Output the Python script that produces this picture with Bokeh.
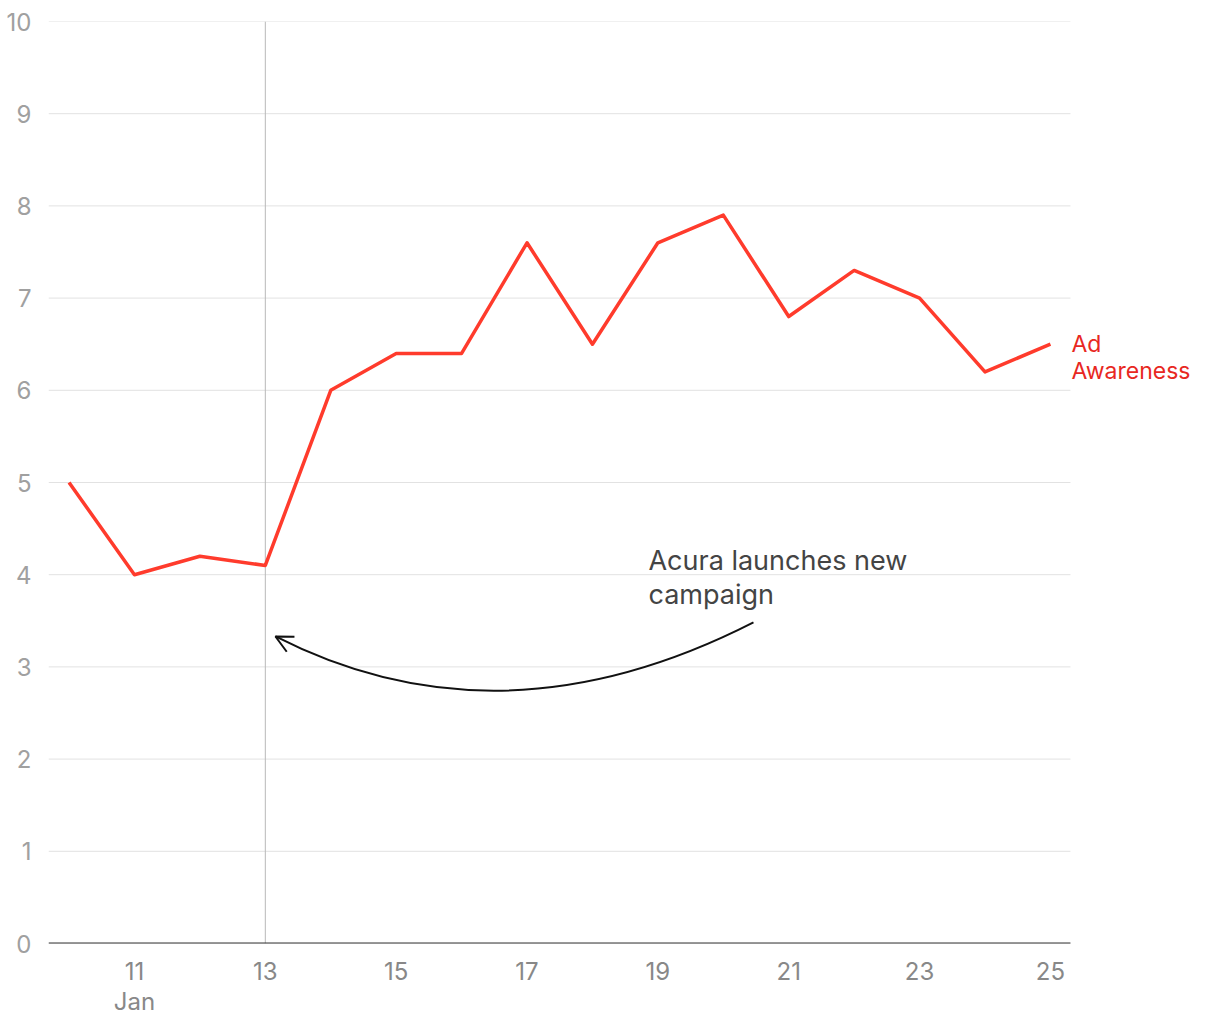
from bokeh.plotting import figure
from bokeh.models import FixedTicker, Label, Range1d, Arrow, OpenHead
from bokeh.embed import file_html
from bokeh.resources import INLINE

days = [10, 11, 12, 13, 14, 15, 16, 17, 18, 19, 20, 21, 22, 23, 24, 25]
ad_awareness = [5.0, 4.0, 4.2, 4.1, 6.0, 6.4, 6.4, 7.6, 6.5, 7.6, 7.9, 6.8, 7.3, 7.0, 6.2, 6.5]
x_ticks = [11, 13, 15, 17, 19, 21, 23, 25]
y_ticks = [0, 1, 2, 3, 4, 5, 6, 7, 8, 9, 10]
event_day = 13
series_name = ["Ad", "Awareness"]
note_lines = ["Acura launches new", "campaign"]

FONT = "Inter"
RED = "#ff3b2c"

X_LEFT = 9.686
GRID_RIGHT = 25.306
X_RIGHT = 27.37

p = figure(frame_width=1157, frame_height=922, output_backend="svg", toolbar_location=None,
           x_range=Range1d(X_LEFT, X_RIGHT), y_range=Range1d(0, 10),
           min_border_left=48, min_border_right=4, min_border_top=21, min_border_bottom=10)
p.outline_line_color = None
p.background_fill_color = "white"
p.border_fill_color = "white"

p.xgrid.grid_line_color = None
p.ygrid.grid_line_color = None

# horizontal gridlines limited to the plotting area (label space on the right)
p.segment(x0=[X_LEFT] * len(y_ticks), y0=y_ticks, x1=[GRID_RIGHT] * len(y_ticks), y1=y_ticks,
          line_color="#e2e2e2", line_width=1)

p.yaxis.ticker = FixedTicker(ticks=y_ticks)
p.yaxis.axis_line_color = None
p.yaxis.major_tick_line_color = None
p.yaxis.minor_tick_line_color = None
p.yaxis.major_label_text_color = "#a0a0a0"
p.yaxis.major_label_text_font = FONT
p.yaxis.major_label_text_font_size = "24px"
p.yaxis.major_label_standoff = 11

p.xaxis.ticker = FixedTicker(ticks=x_ticks)
p.xaxis.axis_line_color = None
p.xaxis.major_tick_line_color = None
p.xaxis.minor_tick_line_color = None
p.xaxis.major_label_text_color = "#888888"
p.xaxis.major_label_text_font = FONT
p.xaxis.major_label_text_font_size = "24px"
p.xaxis.major_label_text_line_height = 1.05
p.xaxis.major_label_standoff = 7
p.xaxis.major_label_overrides = {x_ticks[0]: f"{x_ticks[0]}\nJan"}

# event line
p.segment(x0=[event_day], y0=[y_ticks[0]], x1=[event_day], y1=[y_ticks[-1]],
          line_color="#b8b8b8", line_width=1)

# baseline (x axis line)
p.segment(x0=[X_LEFT], y0=[0], x1=[GRID_RIGHT], y1=[0], line_color="#333333", line_width=2)

p.line(days, ad_awareness, line_color=RED, line_width=3.5, line_join="round")

# series label at line end
for i, t in enumerate(series_name):
    p.add_layout(Label(x=days[-1], y=ad_awareness[-1], x_offset=21, y_offset=-i * 27,
                       text=t, text_font=FONT, text_font_size="23px", text_color="#e8281f",
                       text_baseline="middle", text_align="left"))

# annotation text
for i, t in enumerate(note_lines):
    p.add_layout(Label(x=18.856, y=4.154, y_offset=-i * 34, text=t, text_font=FONT,
                       text_font_size="27px", text_color="#444444", text_baseline="middle",
                       text_align="left"))

# curved arrow (quadratic curve expressed as cubic)
x0, y0 = 20.461, 3.482
cx, cy = 16.594, 2.082
x1, y1 = 13.155, 3.330
p.bezier(x0=[x0], y0=[y0], x1=[x1], y1=[y1],
         cx0=[x0 + 2 / 3 * (cx - x0)], cy0=[y0 + 2 / 3 * (cy - y0)],
         cx1=[x1 + 2 / 3 * (cx - x1)], cy1=[y1 + 2 / 3 * (cy - y1)],
         line_color="#111111", line_width=2)
dx, dy = (x1 - cx), (y1 - cy)
p.add_layout(Arrow(x_start=x1 - 0.05 * dx, y_start=y1 - 0.05 * dy, x_end=x1, y_end=y1,
                   line_alpha=0, end=OpenHead(size=17, line_width=2, line_color="#111111")))

open("out.html", "w").write(file_html(p, INLINE))
